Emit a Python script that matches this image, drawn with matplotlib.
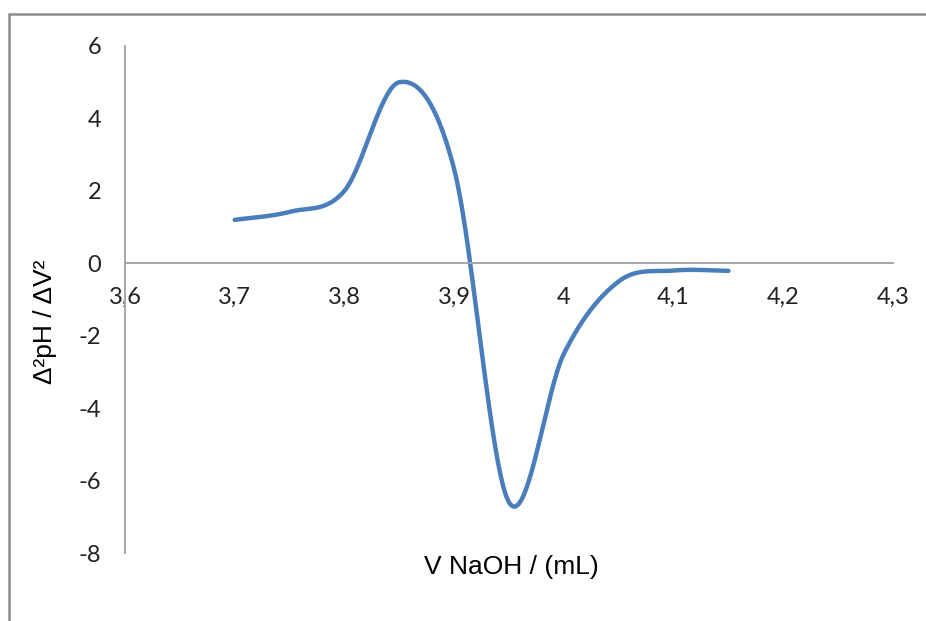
import numpy as np
import matplotlib
matplotlib.use("Agg")
import matplotlib.pyplot as plt
from matplotlib.patches import Rectangle

plt.rcParams["axes.unicode_minus"] = False

# second derivative of the titration curve
volume = [3.70, 3.75, 3.80, 3.85, 3.90, 3.95, 4.00, 4.05, 4.10, 4.15]
d2ph = [1.2, 1.42, 2.0, 5.0, 2.6, -6.6, -2.5, -0.5, -0.2, -0.21]
x_ticks = [3.6, 3.7, 3.8, 3.9, 4.0, 4.1, 4.2, 4.3]
x_labels = ["3,6", "3,7", "3,8", "3,9", "4", "4,1", "4,2", "4,3"]
y_ticks = [-8, -6, -4, -2, 0, 2, 4, 6]

LINE_COLOR = "#4a7ebb"
AXIS_COLOR = "#a6a6a6"


def smooth_line(xs, ys, steps=40):
    # spreadsheet-style smoothed line: Catmull-Rom segments as cubic Beziers
    p = np.column_stack([xs, ys]).astype(float)
    ext = np.vstack([p[0], p, p[-1]])
    out = []
    t = np.linspace(0, 1, steps)[:, None]
    for i in range(len(p) - 1):
        p0, p1, p2, p3 = ext[i], ext[i + 1], ext[i + 2], ext[i + 3]
        c1 = p1 + (p2 - p0) / 6
        c2 = p2 - (p3 - p1) / 6
        seg = ((1 - t) ** 3) * p1 + 3 * ((1 - t) ** 2) * t * c1 \
            + 3 * (1 - t) * t ** 2 * c2 + t ** 3 * p2
        out.append(seg if i == 0 else seg[1:])
    seg = np.vstack(out)
    return seg[:, 0], seg[:, 1]


fig = plt.figure(figsize=(9.26, 6.21), dpi=100)
fig.patches.append(Rectangle((9 / 926, -0.1), 1.2, 1 - 14 / 621 + 0.1,
                             transform=fig.transFigure, fill=False,
                             edgecolor="#8c8c8c", linewidth=1.8))

ax = fig.add_axes([125 / 926, 1 - 553 / 621, 768 / 926, 507 / 621])
sx, sy = smooth_line(volume, d2ph)
ax.plot(sx, sy, color=LINE_COLOR, lw=3.2, solid_capstyle="round")

ax.set_xlim(3.6, 4.3)
ax.set_ylim(-8, 6)
ax.set_xticks(x_ticks, x_labels)
ax.set_yticks(y_ticks)

for spine in ("top", "right"):
    ax.spines[spine].set_visible(False)
ax.spines["bottom"].set_position(("data", 0))
for spine in ("left", "bottom"):
    ax.spines[spine].set_color(AXIS_COLOR)
    ax.spines[spine].set_linewidth(1.4)

ax.tick_params(axis="both", length=0, labelsize=17, labelcolor="#222222")
ax.tick_params(axis="x", pad=17)
ax.tick_params(axis="y", pad=17)
for lab in ax.get_xticklabels() + ax.get_yticklabels():
    lab.set_family("Lato")

fig.text(511 / 926, 1 - 567 / 621, "V NaOH / (mL)", ha="center", va="center",
         fontsize=19, family="Liberation Sans")
fig.text(45 / 926, 1 - 322 / 621, "Δ²pH / ΔV²", ha="center", va="center",
         rotation=90, fontsize=19, family="Liberation Sans")

fig.savefig("out.png", dpi=100)
